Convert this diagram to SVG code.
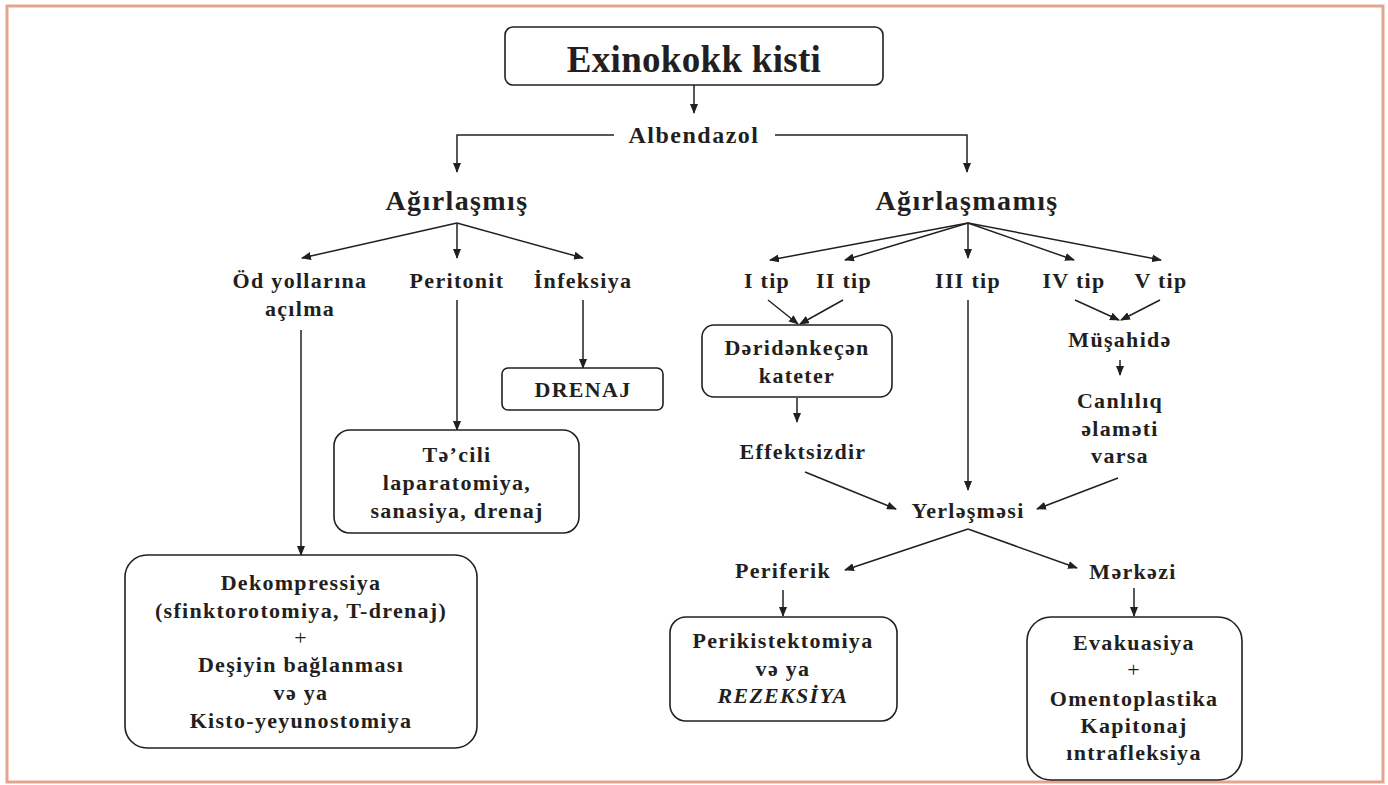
<svg xmlns="http://www.w3.org/2000/svg" width="1388" height="785" viewBox="0 0 1388 785">
<defs>
<marker id="ah" markerWidth="10" markerHeight="8" refX="9" refY="4" orient="auto" markerUnits="userSpaceOnUse">
<path d="M0,0 L10,4 L0,8 Z" fill="#231f20"/>
</marker>
<style>
text{font-family:"Liberation Serif","Times New Roman",serif;font-weight:bold;fill:#231f20;text-anchor:middle}
.t{font-size:22px;letter-spacing:1.3px}
.h{font-size:28px;letter-spacing:1.4px}
.box{fill:#fff;stroke:#231f20;stroke-width:1.6}
.c line,.c polyline{stroke:#231f20;stroke-width:1.5;fill:none;marker-end:url(#ah)}
</style>
</defs>
<rect width="1388" height="785" fill="#fff"/>
<rect x="7" y="6" width="1376" height="776" fill="none" stroke="#e4a58e" stroke-width="3"/>

<g class="c" id="connectors">
<line x1="694" y1="85" x2="694" y2="113"/>
<polyline points="614,135 457,135 457,172"/>
<polyline points="775,135 967,135 967,172"/>
<line x1="457" y1="223" x2="302" y2="258"/>
<line x1="457" y1="223" x2="457" y2="258"/>
<line x1="457" y1="223" x2="583" y2="258"/>
<line x1="301" y1="330" x2="301" y2="555"/>
<line x1="457" y1="300" x2="457" y2="430"/>
<line x1="583" y1="300" x2="583" y2="368"/>
<line x1="968" y1="223" x2="770" y2="260"/>
<line x1="968" y1="223" x2="845" y2="260"/>
<line x1="968" y1="223" x2="968" y2="258"/>
<line x1="968" y1="223" x2="1074" y2="260"/>
<line x1="968" y1="223" x2="1161" y2="260"/>
<line x1="768" y1="300" x2="798" y2="324"/>
<line x1="843" y1="300" x2="800" y2="324"/>
<line x1="797" y1="398" x2="797" y2="422"/>
<line x1="805" y1="472" x2="896" y2="509"/>
<line x1="968" y1="300" x2="968" y2="490"/>
<line x1="1075" y1="300" x2="1119" y2="320"/>
<line x1="1160" y1="300" x2="1121" y2="320"/>
<line x1="1120" y1="360" x2="1120" y2="375"/>
<line x1="1118" y1="478" x2="1037" y2="509"/>
<line x1="968" y1="529" x2="845" y2="570"/>
<line x1="968" y1="529" x2="1077" y2="568"/>
<line x1="783" y1="590" x2="783" y2="616"/>
<line x1="1134" y1="588" x2="1134" y2="616"/>
</g>

<g id="n-title">
<rect class="box" x="505" y="27" width="378" height="58" rx="8"/>
<text x="694" y="72" style="font-size:37px;letter-spacing:0.3px">Exinokokk kisti</text>
</g>
<g id="n-albendazol"><text x="694" y="143" style="font-size:24px;letter-spacing:1.5px">Albendazol</text></g>
<g id="n-agir"><text class="h" x="457" y="210">Ağırlaşmış</text></g>
<g id="n-agirmamis"><text class="h" x="967" y="210">Ağırlaşmamış</text></g>

<g id="n-od"><text class="t" x="300" y="288">Öd yollarına</text><text class="t" x="300" y="316">açılma</text></g>
<g id="n-peritonit"><text class="t" x="457" y="288">Peritonit</text></g>
<g id="n-infeksiya"><text class="t" x="583" y="288">İnfeksiya</text></g>

<g id="n-drenaj">
<rect class="box" x="502" y="368" width="161" height="42" rx="6"/>
<text class="t" x="583" y="397">DRENAJ</text>
</g>
<g id="n-tecili">
<rect class="box" x="334" y="430" width="245" height="103" rx="16"/>
<text class="t" x="457" y="462">Tə’cili</text>
<text class="t" x="457" y="490">laparatomiya,</text>
<text class="t" x="457" y="518">sanasiya, drenaj</text>
</g>
<g id="n-dekomp">
<rect class="box" x="125" y="555" width="352" height="193" rx="22"/>
<text class="t" x="301" y="590">Dekompressiya</text>
<text class="t" x="301" y="618">(sfinktorotomiya, T-drenaj)</text>
<text class="t" x="301" y="645" style="font-weight:normal">+</text>
<text class="t" x="301" y="672">Deşiyin bağlanması</text>
<text class="t" x="301" y="700">və ya</text>
<text class="t" x="301" y="728">Kisto-yeyunostomiya</text>
</g>

<g id="n-tip1"><text class="t" x="767" y="288">I tip</text></g>
<g id="n-tip2"><text class="t" x="844" y="288">II tip</text></g>
<g id="n-tip3"><text class="t" x="968" y="288">III tip</text></g>
<g id="n-tip4"><text class="t" x="1074" y="288">IV tip</text></g>
<g id="n-tip5"><text class="t" x="1161" y="288">V tip</text></g>

<g id="n-kateter">
<rect class="box" x="702" y="325" width="190" height="72" rx="12"/>
<text class="t" x="797" y="355">Dəridənkeçən</text>
<text class="t" x="797" y="383">kateter</text>
</g>
<g id="n-effekt"><text class="t" x="803" y="459">Effektsizdir</text></g>
<g id="n-musahide"><text class="t" x="1120" y="347">Müşahidə</text></g>
<g id="n-canlilig">
<text class="t" x="1120" y="408">Canlılıq</text>
<text class="t" x="1120" y="436">əlaməti</text>
<text class="t" x="1120" y="463">varsa</text>
</g>
<g id="n-yerlesmesi"><text class="t" x="968" y="518">Yerləşməsi</text></g>
<g id="n-periferik"><text class="t" x="783" y="578">Periferik</text></g>
<g id="n-merkezi"><text class="t" x="1133" y="579">Mərkəzi</text></g>

<g id="n-perikist">
<rect class="box" x="670" y="617" width="227" height="104" rx="16"/>
<text class="t" x="783" y="648">Perikistektomiya</text>
<text class="t" x="783" y="676">və ya</text>
<text class="t" x="783" y="703" style="font-style:italic">REZEKSİYA</text>
</g>
<g id="n-evakuasiya">
<rect class="box" x="1027" y="617" width="215" height="163" rx="24"/>
<text class="t" x="1134" y="650">Evakuasiya</text>
<text class="t" x="1134" y="677" style="font-weight:normal">+</text>
<text class="t" x="1134" y="706">Omentoplastika</text>
<text class="t" x="1134" y="733">Kapitonaj</text>
<text class="t" x="1134" y="760">ıntrafleksiya</text>
</g>
</svg>
